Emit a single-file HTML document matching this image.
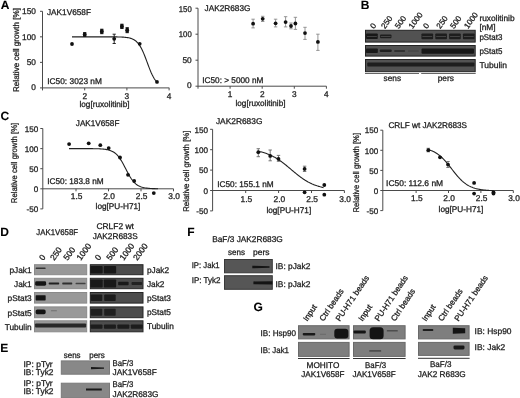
<!DOCTYPE html>
<html><head><meta charset="utf-8"><title>Figure</title>
<style>html,body{margin:0;padding:0;background:#fff;width:520px;height:398px;overflow:hidden}svg{display:block;will-change:transform}text{font-family:"Liberation Sans",sans-serif}</style>
</head><body>
<svg width="520" height="398" viewBox="0 0 520 398" font-family='"Liberation Sans", sans-serif' text-rendering="geometricPrecision">
<rect width="520" height="398" fill="#fff"/>
<text x="0.85" y="8.50" font-size="12" font-weight="bold" fill="#000" stroke="#000" stroke-width="0.1">A</text>
<text x="360.80" y="8.50" font-size="12" font-weight="bold" fill="#000" stroke="#000" stroke-width="0.1">B</text>
<text x="0.50" y="119.60" font-size="12" font-weight="bold" fill="#000" stroke="#000" stroke-width="0.1">C</text>
<text x="0.20" y="236.30" font-size="12" font-weight="bold" fill="#000" stroke="#000" stroke-width="0.1">D</text>
<text x="0.20" y="351.50" font-size="12" font-weight="bold" fill="#000" stroke="#000" stroke-width="0.1">E</text>
<text x="187.20" y="236.30" font-size="12" font-weight="bold" fill="#000" stroke="#000" stroke-width="0.1">F</text>
<text x="253.50" y="311.10" font-size="12" font-weight="bold" fill="#000" stroke="#000" stroke-width="0.1">G</text>
<line x1="42.50" y1="11.31" x2="42.50" y2="90.40" stroke="#4a4a4a" stroke-width="1"/>
<line x1="40.00" y1="87.90" x2="169.30" y2="87.90" stroke="#4a4a4a" stroke-width="1"/>
<line x1="40.00" y1="62.37" x2="42.50" y2="62.37" stroke="#4a4a4a" stroke-width="1"/>
<line x1="40.00" y1="36.84" x2="42.50" y2="36.84" stroke="#4a4a4a" stroke-width="1"/>
<line x1="40.00" y1="11.31" x2="42.50" y2="11.31" stroke="#4a4a4a" stroke-width="1"/>
<text x="35.90" y="89.90" font-size="8.3" text-anchor="end" fill="#1c1c1c" stroke="#1c1c1c" stroke-width="0.28">0</text>
<text x="35.90" y="65.27" font-size="8.3" text-anchor="end" fill="#1c1c1c" stroke="#1c1c1c" stroke-width="0.28">50</text>
<text x="35.90" y="39.74" font-size="8.3" text-anchor="end" fill="#1c1c1c" stroke="#1c1c1c" stroke-width="0.28">100</text>
<text x="35.90" y="14.21" font-size="8.3" text-anchor="end" fill="#1c1c1c" stroke="#1c1c1c" stroke-width="0.28">150</text>
<line x1="84.70" y1="87.90" x2="84.70" y2="90.40" stroke="#4a4a4a" stroke-width="1"/>
<text x="84.70" y="99.00" font-size="8.3" text-anchor="middle" fill="#1c1c1c" stroke="#1c1c1c" stroke-width="0.28">2</text>
<line x1="126.90" y1="87.90" x2="126.90" y2="90.40" stroke="#4a4a4a" stroke-width="1"/>
<text x="126.90" y="99.00" font-size="8.3" text-anchor="middle" fill="#1c1c1c" stroke="#1c1c1c" stroke-width="0.28">3</text>
<line x1="169.10" y1="87.90" x2="169.10" y2="90.40" stroke="#4a4a4a" stroke-width="1"/>
<text x="169.10" y="99.00" font-size="8.3" text-anchor="middle" fill="#1c1c1c" stroke="#1c1c1c" stroke-width="0.28">4</text>
<text x="104.50" y="106.60" font-size="8.3" text-anchor="middle" textLength="50.00" lengthAdjust="spacingAndGlyphs" fill="#1c1c1c" stroke="#1c1c1c" stroke-width="0.28">log[ruxolitinib]</text>
<text x="19.00" y="50.00" font-size="8.3" text-anchor="middle" textLength="84.00" lengthAdjust="spacingAndGlyphs" transform="rotate(-90 19.00 50.00)" fill="#1c1c1c" stroke="#1c1c1c" stroke-width="0.28">Relative cell growth [%]</text>
<text x="47.00" y="15.00" font-size="8.3" textLength="44.00" lengthAdjust="spacingAndGlyphs" fill="#1c1c1c" stroke="#1c1c1c" stroke-width="0.28">JAK1V658F</text>
<text x="47.30" y="83.70" font-size="8.3" textLength="54.60" lengthAdjust="spacingAndGlyphs" fill="#1c1c1c" stroke="#1c1c1c" stroke-width="0.28">IC50: 3023 nM</text>
<polyline points="72.00,36.84 73.07,36.84 74.14,36.84 75.21,36.84 76.28,36.84 77.34,36.84 78.41,36.84 79.48,36.84 80.55,36.84 81.62,36.84 82.69,36.84 83.76,36.84 84.83,36.84 85.89,36.84 86.96,36.84 88.03,36.84 89.10,36.84 90.17,36.84 91.24,36.84 92.31,36.84 93.38,36.84 94.44,36.84 95.51,36.84 96.58,36.84 97.65,36.84 98.72,36.84 99.79,36.84 100.86,36.84 101.92,36.84 102.99,36.84 104.06,36.85 105.13,36.85 106.20,36.85 107.27,36.85 108.34,36.85 109.41,36.86 110.47,36.86 111.54,36.87 112.61,36.87 113.68,36.88 114.75,36.89 115.82,36.90 116.89,36.92 117.96,36.94 119.03,36.97 120.09,37.00 121.16,37.04 122.23,37.09 123.30,37.16 124.37,37.24 125.44,37.34 126.51,37.46 127.58,37.62 128.64,37.81 129.71,38.05 130.78,38.35 131.85,38.73 132.92,39.19 133.99,39.75 135.06,40.44 136.12,41.28 137.19,42.29 138.26,43.50 139.33,44.94 140.40,46.61 141.47,48.53 142.54,50.71 143.61,53.12 144.68,55.74 145.74,58.51 146.81,61.39 147.88,64.29 148.95,67.14 150.02,69.87 151.09,72.42 152.16,74.76 153.22,76.86 154.29,78.70 155.36,80.29 156.43,81.65 157.50,82.79" fill="none" stroke="#222" stroke-width="1.1"/>
<circle cx="72.00" cy="44.00" r="1.9" fill="#111"/>
<line x1="84.70" y1="32.60" x2="84.70" y2="36.30" stroke="#111" stroke-width="0.9"/>
<line x1="83.10" y1="32.60" x2="86.30" y2="32.60" stroke="#111" stroke-width="0.9"/>
<line x1="83.10" y1="36.30" x2="86.30" y2="36.30" stroke="#111" stroke-width="0.9"/>
<rect x="83.20" y="32.60" width="3.00" height="3.70" fill="#111" />
<circle cx="84.70" cy="34.40" r="1.9" fill="#111"/>
<line x1="101.80" y1="29.20" x2="101.80" y2="33.70" stroke="#111" stroke-width="0.9"/>
<line x1="100.20" y1="29.20" x2="103.40" y2="29.20" stroke="#111" stroke-width="0.9"/>
<line x1="100.20" y1="33.70" x2="103.40" y2="33.70" stroke="#111" stroke-width="0.9"/>
<rect x="100.30" y="29.20" width="3.00" height="4.50" fill="#111" />
<circle cx="101.80" cy="31.40" r="1.9" fill="#111"/>
<line x1="114.20" y1="34.20" x2="114.20" y2="43.50" stroke="#111" stroke-width="0.9"/>
<line x1="112.60" y1="34.20" x2="115.80" y2="34.20" stroke="#111" stroke-width="0.9"/>
<line x1="112.60" y1="43.50" x2="115.80" y2="43.50" stroke="#111" stroke-width="0.9"/>
<circle cx="114.20" cy="38.80" r="1.9" fill="#111"/>
<line x1="121.90" y1="24.20" x2="121.90" y2="28.50" stroke="#111" stroke-width="0.9"/>
<line x1="120.30" y1="24.20" x2="123.50" y2="24.20" stroke="#111" stroke-width="0.9"/>
<line x1="120.30" y1="28.50" x2="123.50" y2="28.50" stroke="#111" stroke-width="0.9"/>
<rect x="120.40" y="24.20" width="3.00" height="4.30" fill="#111" />
<circle cx="121.90" cy="26.40" r="1.9" fill="#111"/>
<line x1="127.20" y1="27.70" x2="127.20" y2="32.70" stroke="#111" stroke-width="0.9"/>
<line x1="125.60" y1="27.70" x2="128.80" y2="27.70" stroke="#111" stroke-width="0.9"/>
<line x1="125.60" y1="32.70" x2="128.80" y2="32.70" stroke="#111" stroke-width="0.9"/>
<rect x="125.70" y="27.70" width="3.00" height="5.00" fill="#111" />
<circle cx="127.20" cy="30.20" r="1.9" fill="#111"/>
<circle cx="139.70" cy="43.80" r="1.9" fill="#111"/>
<circle cx="157.00" cy="81.90" r="1.9" fill="#111"/>
<line x1="198.00" y1="8.20" x2="198.00" y2="88.70" stroke="#4a4a4a" stroke-width="1"/>
<line x1="195.50" y1="86.20" x2="326.40" y2="86.20" stroke="#4a4a4a" stroke-width="1"/>
<line x1="195.50" y1="60.20" x2="198.00" y2="60.20" stroke="#4a4a4a" stroke-width="1"/>
<line x1="195.50" y1="34.20" x2="198.00" y2="34.20" stroke="#4a4a4a" stroke-width="1"/>
<line x1="195.50" y1="8.20" x2="198.00" y2="8.20" stroke="#4a4a4a" stroke-width="1"/>
<text x="191.70" y="88.00" font-size="8.3" text-anchor="end" fill="#1c1c1c" stroke="#1c1c1c" stroke-width="0.28">0</text>
<text x="191.70" y="62.70" font-size="8.3" text-anchor="end" fill="#1c1c1c" stroke="#1c1c1c" stroke-width="0.28">50</text>
<text x="191.70" y="37.40" font-size="8.3" text-anchor="end" textLength="12.90" lengthAdjust="spacingAndGlyphs" fill="#1c1c1c" stroke="#1c1c1c" stroke-width="0.28">100</text>
<text x="191.70" y="12.10" font-size="8.3" text-anchor="end" textLength="12.90" lengthAdjust="spacingAndGlyphs" fill="#1c1c1c" stroke="#1c1c1c" stroke-width="0.28">150</text>
<line x1="230.10" y1="86.20" x2="230.10" y2="88.70" stroke="#4a4a4a" stroke-width="1"/>
<text x="230.10" y="97.40" font-size="8.3" text-anchor="middle" fill="#1c1c1c" stroke="#1c1c1c" stroke-width="0.28">1</text>
<line x1="262.20" y1="86.20" x2="262.20" y2="88.70" stroke="#4a4a4a" stroke-width="1"/>
<text x="262.20" y="97.40" font-size="8.3" text-anchor="middle" fill="#1c1c1c" stroke="#1c1c1c" stroke-width="0.28">2</text>
<line x1="294.30" y1="86.20" x2="294.30" y2="88.70" stroke="#4a4a4a" stroke-width="1"/>
<text x="294.30" y="97.40" font-size="8.3" text-anchor="middle" fill="#1c1c1c" stroke="#1c1c1c" stroke-width="0.28">3</text>
<line x1="326.40" y1="86.20" x2="326.40" y2="88.70" stroke="#4a4a4a" stroke-width="1"/>
<text x="326.40" y="97.40" font-size="8.3" text-anchor="middle" fill="#1c1c1c" stroke="#1c1c1c" stroke-width="0.28">4</text>
<text x="260.50" y="105.80" font-size="8.3" text-anchor="middle" textLength="50.00" lengthAdjust="spacingAndGlyphs" fill="#1c1c1c" stroke="#1c1c1c" stroke-width="0.28">log[ruxolitinib]</text>
<text x="204.60" y="11.20" font-size="8.3" textLength="45.80" lengthAdjust="spacingAndGlyphs" fill="#1c1c1c" stroke="#1c1c1c" stroke-width="0.28">JAK2R683G</text>
<text x="202.30" y="83.10" font-size="8.3" textLength="61.00" lengthAdjust="spacingAndGlyphs" fill="#1c1c1c" stroke="#1c1c1c" stroke-width="0.28">IC50: &gt; 5000 nM</text>
<line x1="253.10" y1="19.20" x2="253.10" y2="27.90" stroke="#8a8a8a" stroke-width="0.9"/>
<line x1="251.40" y1="19.20" x2="254.80" y2="19.20" stroke="#8a8a8a" stroke-width="0.9"/>
<line x1="251.40" y1="27.90" x2="254.80" y2="27.90" stroke="#8a8a8a" stroke-width="0.9"/>
<circle cx="253.10" cy="23.70" r="1.9" fill="#111"/>
<line x1="262.70" y1="16.30" x2="262.70" y2="21.50" stroke="#8a8a8a" stroke-width="0.9"/>
<line x1="261.00" y1="16.30" x2="264.40" y2="16.30" stroke="#8a8a8a" stroke-width="0.9"/>
<line x1="261.00" y1="21.50" x2="264.40" y2="21.50" stroke="#8a8a8a" stroke-width="0.9"/>
<circle cx="262.70" cy="18.80" r="1.9" fill="#111"/>
<line x1="275.60" y1="19.20" x2="275.60" y2="26.90" stroke="#8a8a8a" stroke-width="0.9"/>
<line x1="273.90" y1="19.20" x2="277.30" y2="19.20" stroke="#8a8a8a" stroke-width="0.9"/>
<line x1="273.90" y1="26.90" x2="277.30" y2="26.90" stroke="#8a8a8a" stroke-width="0.9"/>
<circle cx="275.60" cy="23.30" r="1.9" fill="#111"/>
<line x1="285.60" y1="16.70" x2="285.60" y2="26.90" stroke="#8a8a8a" stroke-width="0.9"/>
<line x1="283.90" y1="16.70" x2="287.30" y2="16.70" stroke="#8a8a8a" stroke-width="0.9"/>
<line x1="283.90" y1="26.90" x2="287.30" y2="26.90" stroke="#8a8a8a" stroke-width="0.9"/>
<circle cx="285.60" cy="22.10" r="1.9" fill="#111"/>
<line x1="291.00" y1="23.00" x2="291.00" y2="28.80" stroke="#8a8a8a" stroke-width="0.9"/>
<line x1="289.30" y1="23.00" x2="292.70" y2="23.00" stroke="#8a8a8a" stroke-width="0.9"/>
<line x1="289.30" y1="28.80" x2="292.70" y2="28.80" stroke="#8a8a8a" stroke-width="0.9"/>
<circle cx="291.00" cy="26.00" r="1.9" fill="#111"/>
<line x1="295.40" y1="17.30" x2="295.40" y2="29.40" stroke="#8a8a8a" stroke-width="0.9"/>
<line x1="293.70" y1="17.30" x2="297.10" y2="17.30" stroke="#8a8a8a" stroke-width="0.9"/>
<line x1="293.70" y1="29.40" x2="297.10" y2="29.40" stroke="#8a8a8a" stroke-width="0.9"/>
<circle cx="295.40" cy="23.50" r="1.9" fill="#111"/>
<line x1="305.00" y1="27.30" x2="305.00" y2="39.40" stroke="#8a8a8a" stroke-width="0.9"/>
<line x1="303.30" y1="27.30" x2="306.70" y2="27.30" stroke="#8a8a8a" stroke-width="0.9"/>
<line x1="303.30" y1="39.40" x2="306.70" y2="39.40" stroke="#8a8a8a" stroke-width="0.9"/>
<circle cx="305.00" cy="33.10" r="1.9" fill="#111"/>
<line x1="317.90" y1="34.20" x2="317.90" y2="50.40" stroke="#8a8a8a" stroke-width="0.9"/>
<line x1="316.20" y1="34.20" x2="319.60" y2="34.20" stroke="#8a8a8a" stroke-width="0.9"/>
<line x1="316.20" y1="50.40" x2="319.60" y2="50.40" stroke="#8a8a8a" stroke-width="0.9"/>
<circle cx="317.90" cy="41.90" r="1.9" fill="#111"/>
<rect x="365.50" y="30.30" width="109.70" height="11.80" fill="#525252" stroke="#242424" stroke-width="1" />
<rect x="365.50" y="45.50" width="109.70" height="10.60" fill="#525252" stroke="#242424" stroke-width="1" />
<rect x="365.50" y="59.50" width="109.70" height="12.20" fill="#525252" stroke="#242424" stroke-width="1" />
<rect x="366.10" y="33.50" width="11.64" height="5.60" rx="0.80" fill="#141414" opacity="0.95"/>
<rect x="366.00" y="48.50" width="11.84" height="4.60" rx="0.80" fill="#141414" opacity="0.9"/>
<rect x="380.09" y="34.40" width="11.34" height="3.80" rx="0.80" fill="#141414" opacity="0.85"/>
<rect x="379.84" y="49.50" width="11.84" height="2.60" rx="0.80" fill="#141414" opacity="0.8"/>
<rect x="394.18" y="50.00" width="10.84" height="2.00" rx="0.67" fill="#141414" opacity="0.55"/>
<rect x="408.01" y="50.20" width="10.84" height="1.60" rx="0.53" fill="#141414" opacity="0.2"/>
<rect x="421.45" y="33.40" width="11.64" height="5.80" rx="0.80" fill="#141414" opacity="0.85"/>
<rect x="435.29" y="33.40" width="11.64" height="5.80" rx="0.80" fill="#141414" opacity="0.85"/>
<rect x="449.12" y="33.40" width="11.64" height="5.80" rx="0.80" fill="#141414" opacity="0.85"/>
<rect x="462.96" y="33.40" width="11.64" height="5.80" rx="0.80" fill="#141414" opacity="0.85"/>
<rect x="421.50" y="48.50" width="52.50" height="5.20" rx="1.00" fill="#141414" opacity="0.92"/>
<rect x="367.25" y="62.50" width="107.20" height="4.00" rx="1.00" fill="#141414" opacity="0.85"/>
<line x1="367.00" y1="36.4" x2="376.84" y2="36.4" stroke="#6a6a6a" stroke-width="0.8" opacity="0.7"/>
<line x1="380.84" y1="36.4" x2="390.68" y2="36.4" stroke="#6a6a6a" stroke-width="0.8" opacity="0.7"/>
<line x1="422.35" y1="36.4" x2="432.19" y2="36.4" stroke="#6a6a6a" stroke-width="0.8" opacity="0.7"/>
<line x1="436.19" y1="36.4" x2="446.02" y2="36.4" stroke="#6a6a6a" stroke-width="0.8" opacity="0.7"/>
<line x1="450.03" y1="36.4" x2="459.86" y2="36.4" stroke="#6a6a6a" stroke-width="0.8" opacity="0.7"/>
<line x1="463.86" y1="36.4" x2="473.70" y2="36.4" stroke="#6a6a6a" stroke-width="0.8" opacity="0.7"/>
<line x1="365.00" y1="73.50" x2="419.00" y2="73.50" stroke="#666" stroke-width="1"/>
<line x1="421.20" y1="73.50" x2="475.70" y2="73.50" stroke="#666" stroke-width="1"/>
<text x="392.30" y="81.20" font-size="8.3" text-anchor="middle" textLength="17.50" lengthAdjust="spacingAndGlyphs" fill="#1c1c1c" stroke="#1c1c1c" stroke-width="0.28">sens</text>
<text x="445.80" y="81.20" font-size="8.3" text-anchor="middle" textLength="16.30" lengthAdjust="spacingAndGlyphs" fill="#1c1c1c" stroke="#1c1c1c" stroke-width="0.28">pers</text>
<text x="479.40" y="20.50" font-size="8.3" textLength="35.20" lengthAdjust="spacingAndGlyphs" fill="#1c1c1c" stroke="#1c1c1c" stroke-width="0.28">ruxolitinib</text>
<text x="479.40" y="30.20" font-size="8.3" textLength="16.20" lengthAdjust="spacingAndGlyphs" fill="#1c1c1c" stroke="#1c1c1c" stroke-width="0.28">[nM]</text>
<text x="479.40" y="39.80" font-size="8.3" textLength="23.00" lengthAdjust="spacingAndGlyphs" fill="#1c1c1c" stroke="#1c1c1c" stroke-width="0.28">pStat3</text>
<text x="479.40" y="53.60" font-size="8.3" textLength="23.00" lengthAdjust="spacingAndGlyphs" fill="#1c1c1c" stroke="#1c1c1c" stroke-width="0.28">pStat5</text>
<text x="479.40" y="68.00" font-size="8.3" textLength="27.50" lengthAdjust="spacingAndGlyphs" fill="#1c1c1c" stroke="#1c1c1c" stroke-width="0.28">Tubulin</text>
<text x="374.12" y="29.20" font-size="8.0" transform="rotate(-54 374.12 29.20)" fill="#1c1c1c" stroke="#1c1c1c" stroke-width="0.28">0</text>
<text x="384.96" y="29.20" font-size="8.0" transform="rotate(-54 384.96 29.20)" fill="#1c1c1c" stroke="#1c1c1c" stroke-width="0.28">250</text>
<text x="398.79" y="29.20" font-size="8.0" transform="rotate(-54 398.79 29.20)" fill="#1c1c1c" stroke="#1c1c1c" stroke-width="0.28">500</text>
<text x="412.63" y="29.20" font-size="8.0" transform="rotate(-54 412.63 29.20)" fill="#1c1c1c" stroke="#1c1c1c" stroke-width="0.28">1000</text>
<text x="426.97" y="29.20" font-size="8.0" transform="rotate(-54 426.97 29.20)" fill="#1c1c1c" stroke="#1c1c1c" stroke-width="0.28">0</text>
<text x="440.31" y="29.20" font-size="8.0" transform="rotate(-54 440.31 29.20)" fill="#1c1c1c" stroke="#1c1c1c" stroke-width="0.28">250</text>
<text x="454.14" y="29.20" font-size="8.0" transform="rotate(-54 454.14 29.20)" fill="#1c1c1c" stroke="#1c1c1c" stroke-width="0.28">500</text>
<text x="467.98" y="29.20" font-size="8.0" transform="rotate(-54 467.98 29.20)" fill="#1c1c1c" stroke="#1c1c1c" stroke-width="0.28">1000</text>
<line x1="42.80" y1="128.50" x2="42.80" y2="208.90" stroke="#4a4a4a" stroke-width="1"/>
<line x1="40.30" y1="188.80" x2="173.50" y2="188.80" stroke="#4a4a4a" stroke-width="1"/>
<line x1="40.30" y1="128.50" x2="42.80" y2="128.50" stroke="#4a4a4a" stroke-width="1"/>
<line x1="40.30" y1="148.60" x2="42.80" y2="148.60" stroke="#4a4a4a" stroke-width="1"/>
<line x1="40.30" y1="168.70" x2="42.80" y2="168.70" stroke="#4a4a4a" stroke-width="1"/>
<line x1="40.30" y1="208.90" x2="42.80" y2="208.90" stroke="#4a4a4a" stroke-width="1"/>
<text x="38.20" y="131.70" font-size="8.1" text-anchor="end" fill="#1c1c1c" stroke="#1c1c1c" stroke-width="0.28">150</text>
<text x="38.20" y="151.80" font-size="8.1" text-anchor="end" fill="#1c1c1c" stroke="#1c1c1c" stroke-width="0.28">100</text>
<text x="38.20" y="171.90" font-size="8.1" text-anchor="end" fill="#1c1c1c" stroke="#1c1c1c" stroke-width="0.28">50</text>
<text x="38.20" y="192.00" font-size="8.1" text-anchor="end" fill="#1c1c1c" stroke="#1c1c1c" stroke-width="0.28">0</text>
<text x="38.20" y="212.10" font-size="8.1" text-anchor="end" fill="#1c1c1c" stroke="#1c1c1c" stroke-width="0.28">-50</text>
<line x1="76.00" y1="188.80" x2="76.00" y2="191.30" stroke="#4a4a4a" stroke-width="1"/>
<text x="76.70" y="198.60" font-size="8.4" text-anchor="middle" fill="#1c1c1c" stroke="#1c1c1c" stroke-width="0.28">1.5</text>
<line x1="108.50" y1="188.80" x2="108.50" y2="191.30" stroke="#4a4a4a" stroke-width="1"/>
<text x="109.20" y="198.60" font-size="8.4" text-anchor="middle" fill="#1c1c1c" stroke="#1c1c1c" stroke-width="0.28">2.0</text>
<line x1="141.00" y1="188.80" x2="141.00" y2="191.30" stroke="#4a4a4a" stroke-width="1"/>
<text x="141.70" y="198.60" font-size="8.4" text-anchor="middle" fill="#1c1c1c" stroke="#1c1c1c" stroke-width="0.28">2.5</text>
<line x1="173.50" y1="188.80" x2="173.50" y2="191.30" stroke="#4a4a4a" stroke-width="1"/>
<text x="174.20" y="198.60" font-size="8.4" text-anchor="middle" fill="#1c1c1c" stroke="#1c1c1c" stroke-width="0.28">3.0</text>
<text x="118.00" y="208.50" font-size="8.3" text-anchor="middle" textLength="44.80" lengthAdjust="spacingAndGlyphs" fill="#1c1c1c" stroke="#1c1c1c" stroke-width="0.28">log[PU-H71]</text>
<text x="16.90" y="163.00" font-size="8.3" text-anchor="middle" textLength="80.30" lengthAdjust="spacingAndGlyphs" transform="rotate(-90 16.90 163.00)" fill="#1c1c1c" stroke="#1c1c1c" stroke-width="0.28">Relative cell growth [%]</text>
<text x="75.80" y="126.00" font-size="8.3" textLength="43.60" lengthAdjust="spacingAndGlyphs" fill="#1c1c1c" stroke="#1c1c1c" stroke-width="0.28">JAK1V658F</text>
<text x="47.30" y="184.30" font-size="8.3" textLength="56.30" lengthAdjust="spacingAndGlyphs" fill="#1c1c1c" stroke="#1c1c1c" stroke-width="0.28">IC50: 183.8 nM</text>
<polyline points="69.00,148.60 70.11,148.60 71.22,148.60 72.34,148.60 73.45,148.60 74.56,148.60 75.67,148.60 76.79,148.60 77.90,148.60 79.01,148.60 80.12,148.61 81.24,148.61 82.35,148.61 83.46,148.61 84.58,148.61 85.69,148.62 86.80,148.62 87.91,148.63 89.03,148.63 90.14,148.64 91.25,148.65 92.36,148.66 93.47,148.68 94.59,148.69 95.70,148.72 96.81,148.74 97.92,148.78 99.04,148.82 100.15,148.88 101.26,148.94 102.38,149.02 103.49,149.13 104.60,149.25 105.71,149.40 106.83,149.59 107.94,149.83 109.05,150.11 110.16,150.46 111.28,150.89 112.39,151.40 113.50,152.03 114.61,152.77 115.72,153.65 116.84,154.69 117.95,155.89 119.06,157.28 120.17,158.84 121.29,160.58 122.40,162.48 123.51,164.51 124.62,166.64 125.74,168.81 126.85,170.98 127.96,173.09 129.07,175.11 130.19,177.00 131.30,178.72 132.41,180.27 133.53,181.63 134.64,182.82 135.75,183.84 136.86,184.71 137.97,185.44 139.09,186.05 140.20,186.56 141.31,186.97 142.43,187.32 143.54,187.60 144.65,187.83 145.76,188.01 146.88,188.16 147.99,188.29 149.10,188.38 150.21,188.47 151.32,188.53 152.44,188.58 153.55,188.62 154.66,188.66 155.78,188.69 156.89,188.71 158.00,188.73" fill="none" stroke="#222" stroke-width="1.1"/>
<circle cx="69.10" cy="144.10" r="1.9" fill="#111"/>
<circle cx="88.70" cy="143.30" r="1.9" fill="#111"/>
<circle cx="100.30" cy="145.20" r="1.9" fill="#111"/>
<circle cx="108.70" cy="148.10" r="1.9" fill="#111"/>
<circle cx="120.00" cy="157.50" r="1.9" fill="#111"/>
<circle cx="128.00" cy="174.80" r="1.9" fill="#111"/>
<circle cx="134.20" cy="181.00" r="1.9" fill="#111"/>
<circle cx="153.80" cy="193.10" r="1.9" fill="#111"/>
<line x1="212.60" y1="129.30" x2="212.60" y2="210.90" stroke="#4a4a4a" stroke-width="1"/>
<line x1="210.10" y1="190.50" x2="344.40" y2="190.50" stroke="#4a4a4a" stroke-width="1"/>
<line x1="210.10" y1="129.30" x2="212.60" y2="129.30" stroke="#4a4a4a" stroke-width="1"/>
<line x1="210.10" y1="149.70" x2="212.60" y2="149.70" stroke="#4a4a4a" stroke-width="1"/>
<line x1="210.10" y1="170.10" x2="212.60" y2="170.10" stroke="#4a4a4a" stroke-width="1"/>
<line x1="210.10" y1="210.90" x2="212.60" y2="210.90" stroke="#4a4a4a" stroke-width="1"/>
<text x="208.00" y="132.50" font-size="8.1" text-anchor="end" fill="#1c1c1c" stroke="#1c1c1c" stroke-width="0.28">150</text>
<text x="208.00" y="152.90" font-size="8.1" text-anchor="end" fill="#1c1c1c" stroke="#1c1c1c" stroke-width="0.28">100</text>
<text x="208.00" y="173.30" font-size="8.1" text-anchor="end" fill="#1c1c1c" stroke="#1c1c1c" stroke-width="0.28">50</text>
<text x="208.00" y="193.70" font-size="8.1" text-anchor="end" fill="#1c1c1c" stroke="#1c1c1c" stroke-width="0.28">0</text>
<text x="208.00" y="214.10" font-size="8.1" text-anchor="end" fill="#1c1c1c" stroke="#1c1c1c" stroke-width="0.28">-50</text>
<line x1="245.70" y1="190.50" x2="245.70" y2="193.00" stroke="#4a4a4a" stroke-width="1"/>
<text x="246.40" y="202.00" font-size="8.4" text-anchor="middle" fill="#1c1c1c" stroke="#1c1c1c" stroke-width="0.28">1.5</text>
<line x1="278.60" y1="190.50" x2="278.60" y2="193.00" stroke="#4a4a4a" stroke-width="1"/>
<text x="279.30" y="202.00" font-size="8.4" text-anchor="middle" fill="#1c1c1c" stroke="#1c1c1c" stroke-width="0.28">2.0</text>
<line x1="311.50" y1="190.50" x2="311.50" y2="193.00" stroke="#4a4a4a" stroke-width="1"/>
<text x="312.20" y="202.00" font-size="8.4" text-anchor="middle" fill="#1c1c1c" stroke="#1c1c1c" stroke-width="0.28">2.5</text>
<line x1="344.40" y1="190.50" x2="344.40" y2="193.00" stroke="#4a4a4a" stroke-width="1"/>
<text x="345.10" y="202.00" font-size="8.4" text-anchor="middle" fill="#1c1c1c" stroke="#1c1c1c" stroke-width="0.28">3.0</text>
<text x="288.80" y="212.50" font-size="8.3" text-anchor="middle" textLength="44.80" lengthAdjust="spacingAndGlyphs" fill="#1c1c1c" stroke="#1c1c1c" stroke-width="0.28">log[PU-H71]</text>
<text x="188.70" y="171.20" font-size="8.3" text-anchor="middle" textLength="81.30" lengthAdjust="spacingAndGlyphs" transform="rotate(-90 188.70 171.20)" fill="#1c1c1c" stroke="#1c1c1c" stroke-width="0.28">Relative cell growth [%]</text>
<text x="215.90" y="124.40" font-size="8.3" textLength="46.50" lengthAdjust="spacingAndGlyphs" fill="#1c1c1c" stroke="#1c1c1c" stroke-width="0.28">JAK2R683G</text>
<text x="217.30" y="187.00" font-size="8.3" textLength="56.30" lengthAdjust="spacingAndGlyphs" fill="#1c1c1c" stroke="#1c1c1c" stroke-width="0.28">IC50: 155.1 nM</text>
<polyline points="258.50,151.31 259.31,151.49 260.12,151.67 260.94,151.87 261.75,152.08 262.56,152.30 263.38,152.54 264.19,152.78 265.00,153.04 265.81,153.32 266.62,153.60 267.44,153.91 268.25,154.22 269.06,154.56 269.88,154.90 270.69,155.27 271.50,155.65 272.31,156.05 273.12,156.46 273.94,156.89 274.75,157.34 275.56,157.81 276.38,158.29 277.19,158.79 278.00,159.31 278.81,159.84 279.62,160.39 280.44,160.96 281.25,161.54 282.06,162.13 282.88,162.74 283.69,163.37 284.50,164.00 285.31,164.65 286.12,165.30 286.94,165.97 287.75,166.64 288.56,167.31 289.38,168.00 290.19,168.68 291.00,169.37 291.81,170.05 292.62,170.74 293.44,171.42 294.25,172.10 295.06,172.78 295.88,173.44 296.69,174.10 297.50,174.75 298.31,175.39 299.12,176.02 299.94,176.63 300.75,177.23 301.56,177.82 302.38,178.39 303.19,178.94 304.00,179.48 304.81,180.01 305.62,180.51 306.44,181.00 307.25,181.47 308.06,181.93 308.88,182.37 309.69,182.79 310.50,183.19 311.31,183.58 312.12,183.95 312.94,184.30 313.75,184.64 314.56,184.96 315.38,185.27 316.19,185.56 317.00,185.84 317.81,186.10 318.62,186.35 319.44,186.59 320.25,186.82 321.06,187.03 321.88,187.23 322.69,187.42 323.50,187.61" fill="none" stroke="#222" stroke-width="1.1"/>
<line x1="258.30" y1="148.70" x2="258.30" y2="156.70" stroke="#6a6a6a" stroke-width="0.9"/>
<line x1="256.60" y1="148.70" x2="260.00" y2="148.70" stroke="#6a6a6a" stroke-width="0.9"/>
<line x1="256.60" y1="156.70" x2="260.00" y2="156.70" stroke="#6a6a6a" stroke-width="0.9"/>
<circle cx="258.30" cy="152.20" r="1.9" fill="#111"/>
<line x1="270.20" y1="150.00" x2="270.20" y2="160.80" stroke="#6a6a6a" stroke-width="0.9"/>
<line x1="268.50" y1="150.00" x2="271.90" y2="150.00" stroke="#6a6a6a" stroke-width="0.9"/>
<line x1="268.50" y1="160.80" x2="271.90" y2="160.80" stroke="#6a6a6a" stroke-width="0.9"/>
<circle cx="270.20" cy="155.90" r="1.9" fill="#111"/>
<line x1="278.50" y1="155.40" x2="278.50" y2="161.30" stroke="#6a6a6a" stroke-width="0.9"/>
<line x1="276.80" y1="155.40" x2="280.20" y2="155.40" stroke="#6a6a6a" stroke-width="0.9"/>
<line x1="276.80" y1="161.30" x2="280.20" y2="161.30" stroke="#6a6a6a" stroke-width="0.9"/>
<circle cx="278.50" cy="158.90" r="1.9" fill="#111"/>
<line x1="304.60" y1="166.20" x2="304.60" y2="171.50" stroke="#6a6a6a" stroke-width="0.9"/>
<line x1="302.90" y1="166.20" x2="306.30" y2="166.20" stroke="#6a6a6a" stroke-width="0.9"/>
<line x1="302.90" y1="171.50" x2="306.30" y2="171.50" stroke="#6a6a6a" stroke-width="0.9"/>
<circle cx="304.60" cy="168.90" r="1.9" fill="#111"/>
<circle cx="304.60" cy="192.30" r="1.9" fill="#111"/>
<circle cx="324.30" cy="185.00" r="1.9" fill="#111"/>
<circle cx="324.30" cy="194.70" r="1.9" fill="#111"/>
<line x1="382.80" y1="130.20" x2="382.80" y2="210.60" stroke="#4a4a4a" stroke-width="1"/>
<line x1="380.30" y1="190.50" x2="513.30" y2="190.50" stroke="#4a4a4a" stroke-width="1"/>
<line x1="380.30" y1="130.20" x2="382.80" y2="130.20" stroke="#4a4a4a" stroke-width="1"/>
<line x1="380.30" y1="150.30" x2="382.80" y2="150.30" stroke="#4a4a4a" stroke-width="1"/>
<line x1="380.30" y1="170.40" x2="382.80" y2="170.40" stroke="#4a4a4a" stroke-width="1"/>
<line x1="380.30" y1="210.60" x2="382.80" y2="210.60" stroke="#4a4a4a" stroke-width="1"/>
<text x="378.20" y="133.40" font-size="8.1" text-anchor="end" fill="#1c1c1c" stroke="#1c1c1c" stroke-width="0.28">150</text>
<text x="378.20" y="153.50" font-size="8.1" text-anchor="end" fill="#1c1c1c" stroke="#1c1c1c" stroke-width="0.28">100</text>
<text x="378.20" y="173.60" font-size="8.1" text-anchor="end" fill="#1c1c1c" stroke="#1c1c1c" stroke-width="0.28">50</text>
<text x="378.20" y="193.70" font-size="8.1" text-anchor="end" fill="#1c1c1c" stroke="#1c1c1c" stroke-width="0.28">0</text>
<text x="378.20" y="213.80" font-size="8.1" text-anchor="end" fill="#1c1c1c" stroke="#1c1c1c" stroke-width="0.28">-50</text>
<line x1="416.10" y1="190.50" x2="416.10" y2="193.00" stroke="#4a4a4a" stroke-width="1"/>
<text x="416.80" y="201.40" font-size="8.4" text-anchor="middle" fill="#1c1c1c" stroke="#1c1c1c" stroke-width="0.28">1.5</text>
<line x1="448.50" y1="190.50" x2="448.50" y2="193.00" stroke="#4a4a4a" stroke-width="1"/>
<text x="449.20" y="201.40" font-size="8.4" text-anchor="middle" fill="#1c1c1c" stroke="#1c1c1c" stroke-width="0.28">2.0</text>
<line x1="480.90" y1="190.50" x2="480.90" y2="193.00" stroke="#4a4a4a" stroke-width="1"/>
<text x="481.60" y="201.40" font-size="8.4" text-anchor="middle" fill="#1c1c1c" stroke="#1c1c1c" stroke-width="0.28">2.5</text>
<line x1="513.30" y1="190.50" x2="513.30" y2="193.00" stroke="#4a4a4a" stroke-width="1"/>
<text x="514.00" y="201.40" font-size="8.4" text-anchor="middle" fill="#1c1c1c" stroke="#1c1c1c" stroke-width="0.28">3.0</text>
<text x="461.00" y="212.30" font-size="8.3" text-anchor="middle" textLength="44.80" lengthAdjust="spacingAndGlyphs" fill="#1c1c1c" stroke="#1c1c1c" stroke-width="0.28">log[PU-H71]</text>
<text x="358.80" y="172.70" font-size="8.3" text-anchor="middle" textLength="79.50" lengthAdjust="spacingAndGlyphs" transform="rotate(-90 358.80 172.70)" fill="#1c1c1c" stroke="#1c1c1c" stroke-width="0.28">Relative cell growth [%]</text>
<text x="388.40" y="128.00" font-size="8.3" textLength="78.70" lengthAdjust="spacingAndGlyphs" fill="#1c1c1c" stroke="#1c1c1c" stroke-width="0.28">CRLF wt JAK2R683S</text>
<text x="386.10" y="186.20" font-size="8.3" textLength="57.00" lengthAdjust="spacingAndGlyphs" fill="#1c1c1c" stroke="#1c1c1c" stroke-width="0.28">IC50: 112.6 nM</text>
<polyline points="428.30,149.61 429.12,149.86 429.93,150.13 430.75,150.42 431.56,150.74 432.38,151.08 433.19,151.45 434.00,151.85 434.82,152.28 435.63,152.75 436.45,153.25 437.26,153.78 438.08,154.35 438.89,154.95 439.71,155.60 440.53,156.28 441.34,157.00 442.16,157.76 442.97,158.56 443.79,159.39 444.60,160.26 445.42,161.17 446.23,162.10 447.05,163.06 447.86,164.05 448.68,165.06 449.49,166.09 450.31,167.13 451.12,168.17 451.94,169.22 452.75,170.27 453.56,171.32 454.38,172.35 455.19,173.37 456.01,174.37 456.82,175.35 457.64,176.30 458.45,177.22 459.27,178.10 460.09,178.96 460.90,179.77 461.72,180.55 462.53,181.30 463.35,182.00 464.16,182.66 464.98,183.29 465.79,183.88 466.61,184.43 467.42,184.94 468.24,185.42 469.05,185.87 469.87,186.29 470.68,186.67 471.50,187.03 472.31,187.36 473.12,187.67 473.94,187.95 474.75,188.21 475.57,188.45 476.38,188.66 477.20,188.87 478.01,189.05 478.83,189.22 479.64,189.37 480.46,189.52 481.27,189.65 482.09,189.76 482.91,189.87 483.72,189.97 484.54,190.06 485.35,190.14 486.17,190.22 486.98,190.29 487.80,190.35 488.61,190.41 489.43,190.46 490.24,190.51 491.06,190.55 491.87,190.59 492.69,190.62 493.50,190.66" fill="none" stroke="#222" stroke-width="1.1"/>
<line x1="428.30" y1="148.30" x2="428.30" y2="151.80" stroke="#6a6a6a" stroke-width="0.9"/>
<line x1="426.60" y1="148.30" x2="430.00" y2="148.30" stroke="#6a6a6a" stroke-width="0.9"/>
<line x1="426.60" y1="151.80" x2="430.00" y2="151.80" stroke="#6a6a6a" stroke-width="0.9"/>
<circle cx="428.30" cy="150.20" r="1.9" fill="#111"/>
<circle cx="440.00" cy="157.30" r="1.9" fill="#111"/>
<line x1="448.00" y1="161.50" x2="448.00" y2="167.50" stroke="#6a6a6a" stroke-width="0.9"/>
<line x1="446.30" y1="161.50" x2="449.70" y2="161.50" stroke="#6a6a6a" stroke-width="0.9"/>
<line x1="446.30" y1="167.50" x2="449.70" y2="167.50" stroke="#6a6a6a" stroke-width="0.9"/>
<circle cx="448.00" cy="164.60" r="1.9" fill="#111"/>
<circle cx="474.10" cy="182.90" r="1.9" fill="#111"/>
<circle cx="474.10" cy="193.60" r="1.9" fill="#111"/>
<circle cx="493.50" cy="192.30" r="1.9" fill="#111"/>
<circle cx="493.50" cy="193.60" r="1.9" fill="#111"/>
<text x="57.20" y="235.30" font-size="8.3" text-anchor="middle" textLength="41.80" lengthAdjust="spacingAndGlyphs" fill="#1c1c1c" stroke="#1c1c1c" stroke-width="0.28">JAK1V658F</text>
<text x="115.20" y="229.40" font-size="8.3" text-anchor="middle" textLength="37.50" lengthAdjust="spacingAndGlyphs" fill="#1c1c1c" stroke="#1c1c1c" stroke-width="0.28">CRLF2 wt</text>
<text x="115.20" y="239.00" font-size="8.3" text-anchor="middle" textLength="45.00" lengthAdjust="spacingAndGlyphs" fill="#1c1c1c" stroke="#1c1c1c" stroke-width="0.28">JAK2R683S</text>
<rect x="34.50" y="264.70" width="52.20" height="10.00" fill="#999999" stroke="#8a8a8a" stroke-width="1" />
<rect x="90.30" y="264.70" width="52.70" height="10.00" fill="#4c4c4c" stroke="#262626" stroke-width="1" />
<text x="31.60" y="273.20" font-size="8.3" text-anchor="end" fill="#1c1c1c" stroke="#1c1c1c" stroke-width="0.28">pJak1</text>
<text x="146.90" y="272.70" font-size="8.3" fill="#1c1c1c" stroke="#1c1c1c" stroke-width="0.28">pJak2</text>
<rect x="34.50" y="278.30" width="52.20" height="10.40" fill="#999999" stroke="#8a8a8a" stroke-width="1" />
<rect x="90.30" y="278.30" width="52.70" height="10.40" fill="#4c4c4c" stroke="#262626" stroke-width="1" />
<text x="31.60" y="287.00" font-size="8.3" text-anchor="end" fill="#1c1c1c" stroke="#1c1c1c" stroke-width="0.28">Jak1</text>
<text x="146.90" y="286.50" font-size="8.3" fill="#1c1c1c" stroke="#1c1c1c" stroke-width="0.28">Jak2</text>
<rect x="34.50" y="292.50" width="52.20" height="10.60" fill="#999999" stroke="#8a8a8a" stroke-width="1" />
<rect x="90.30" y="292.50" width="52.70" height="10.60" fill="#4c4c4c" stroke="#262626" stroke-width="1" />
<text x="31.60" y="301.30" font-size="8.3" text-anchor="end" fill="#1c1c1c" stroke="#1c1c1c" stroke-width="0.28">pStat3</text>
<text x="146.90" y="300.80" font-size="8.3" fill="#1c1c1c" stroke="#1c1c1c" stroke-width="0.28">pStat3</text>
<rect x="34.50" y="306.90" width="52.20" height="10.80" fill="#999999" stroke="#8a8a8a" stroke-width="1" />
<rect x="90.30" y="306.90" width="52.70" height="10.80" fill="#4c4c4c" stroke="#262626" stroke-width="1" />
<text x="31.60" y="315.80" font-size="8.3" text-anchor="end" fill="#1c1c1c" stroke="#1c1c1c" stroke-width="0.28">pStat5</text>
<text x="146.90" y="315.30" font-size="8.3" fill="#1c1c1c" stroke="#1c1c1c" stroke-width="0.28">pStat5</text>
<rect x="34.50" y="320.80" width="52.20" height="11.00" fill="#999999" stroke="#8a8a8a" stroke-width="1" />
<rect x="90.30" y="320.80" width="52.70" height="11.00" fill="#4c4c4c" stroke="#262626" stroke-width="1" />
<text x="31.60" y="329.80" font-size="8.3" text-anchor="end" fill="#1c1c1c" stroke="#1c1c1c" stroke-width="0.28">Tubulin</text>
<text x="146.90" y="329.30" font-size="8.3" fill="#1c1c1c" stroke="#1c1c1c" stroke-width="0.28">Tubulin</text>
<text x="43.15" y="261.00" font-size="8.4" transform="rotate(-54 43.15 261.00)" fill="#1c1c1c" stroke="#1c1c1c" stroke-width="0.28">0</text>
<text x="54.15" y="261.00" font-size="8.4" transform="rotate(-54 54.15 261.00)" fill="#1c1c1c" stroke="#1c1c1c" stroke-width="0.28">250</text>
<text x="67.45" y="261.00" font-size="8.4" transform="rotate(-54 67.45 261.00)" fill="#1c1c1c" stroke="#1c1c1c" stroke-width="0.28">500</text>
<text x="80.75" y="261.00" font-size="8.4" transform="rotate(-54 80.75 261.00)" fill="#1c1c1c" stroke="#1c1c1c" stroke-width="0.28">1000</text>
<text x="99.01" y="261.00" font-size="8.4" transform="rotate(-54 99.01 261.00)" fill="#1c1c1c" stroke="#1c1c1c" stroke-width="0.28">0</text>
<text x="110.44" y="261.00" font-size="8.4" transform="rotate(-54 110.44 261.00)" fill="#1c1c1c" stroke="#1c1c1c" stroke-width="0.28">500</text>
<text x="123.86" y="261.00" font-size="8.4" transform="rotate(-54 123.86 261.00)" fill="#1c1c1c" stroke="#1c1c1c" stroke-width="0.28">1000</text>
<text x="137.29" y="261.00" font-size="8.4" transform="rotate(-54 137.29 261.00)" fill="#1c1c1c" stroke="#1c1c1c" stroke-width="0.28">2000</text>
<rect x="35.65" y="267.50" width="10.00" height="1.40" rx="0.47" fill="#141414" opacity="0.75"/>
<rect x="35.15" y="281.30" width="11.00" height="4.40" rx="1.47" fill="#141414" opacity="1"/>
<rect x="48.70" y="282.50" width="10.50" height="2.00" rx="0.67" fill="#141414" opacity="0.9"/>
<rect x="62.25" y="282.60" width="10.00" height="1.80" rx="0.60" fill="#141414" opacity="0.8"/>
<rect x="75.55" y="282.70" width="10.00" height="1.60" rx="0.53" fill="#141414" opacity="0.65"/>
<rect x="35.65" y="295.20" width="10.00" height="5.20" rx="0.60" fill="#141414" opacity="1"/>
<rect x="35.65" y="309.40" width="10.00" height="4.80" rx="1.60" fill="#141414" opacity="1"/>
<rect x="50.95" y="310.30" width="6.00" height="1.00" rx="0.33" fill="#141414" opacity="0.3"/>
<rect x="35.10" y="323.50" width="51.00" height="4.00" rx="0.80" fill="#141414" opacity="0.85"/>
<rect x="90.31" y="265.95" width="12.40" height="7.50" rx="0.80" fill="#141414" opacity="0.9"/>
<rect x="103.74" y="265.95" width="12.40" height="7.50" rx="0.80" fill="#141414" opacity="0.9"/>
<rect x="90.31" y="279.50" width="12.40" height="8.00" rx="0.80" fill="#141414" opacity="0.9"/>
<rect x="103.74" y="279.50" width="12.40" height="8.00" rx="0.80" fill="#141414" opacity="0.9"/>
<rect x="118.11" y="281.80" width="10.50" height="3.40" rx="0.80" fill="#141414" opacity="0.9"/>
<rect x="131.54" y="281.90" width="10.50" height="3.20" rx="0.80" fill="#141414" opacity="0.75"/>
<rect x="90.76" y="294.55" width="11.50" height="6.50" rx="0.80" fill="#141414" opacity="0.85"/>
<rect x="104.19" y="294.55" width="11.50" height="6.50" rx="0.80" fill="#141414" opacity="0.85"/>
<rect x="90.76" y="308.80" width="11.50" height="7.00" rx="0.80" fill="#141414" opacity="0.8"/>
<rect x="104.19" y="308.80" width="11.50" height="7.00" rx="0.80" fill="#141414" opacity="0.8"/>
<rect x="90.51" y="324.50" width="12.00" height="4.20" rx="0.80" fill="#141414" opacity="0.85"/>
<rect x="103.94" y="324.50" width="12.00" height="4.20" rx="0.80" fill="#141414" opacity="0.85"/>
<rect x="117.36" y="324.50" width="12.00" height="4.20" rx="0.80" fill="#141414" opacity="0.85"/>
<rect x="130.79" y="324.50" width="12.00" height="4.20" rx="0.80" fill="#141414" opacity="0.85"/>
<text x="72.20" y="357.80" font-size="8.3" text-anchor="middle" textLength="16.80" lengthAdjust="spacingAndGlyphs" fill="#1c1c1c" stroke="#1c1c1c" stroke-width="0.28">sens</text>
<text x="97.00" y="357.80" font-size="8.3" text-anchor="middle" textLength="15.60" lengthAdjust="spacingAndGlyphs" fill="#1c1c1c" stroke="#1c1c1c" stroke-width="0.28">pers</text>
<rect x="61.30" y="360.90" width="48.20" height="13.30" fill="#888888" stroke="#7a7a7a" stroke-width="1" />
<rect x="61.30" y="383.20" width="48.20" height="15.00" fill="#888888" stroke="#7a7a7a" stroke-width="1" />
<path d="M91.00,366.90 L104.00,367.45 L104.00,368.75 L91.00,369.30 Z" fill="#141414" opacity="0.95"/>
<path d="M86.00,388.50 L101.80,388.60 L101.80,390.40 L86.00,390.50 Z" fill="#141414" opacity="0.95"/>
<text x="23.50" y="366.70" font-size="8.3" textLength="29.20" lengthAdjust="spacingAndGlyphs" fill="#1c1c1c" stroke="#1c1c1c" stroke-width="0.28">IP: pTyr</text>
<text x="23.50" y="374.90" font-size="8.3" textLength="30.00" lengthAdjust="spacingAndGlyphs" fill="#1c1c1c" stroke="#1c1c1c" stroke-width="0.28">IB: Tyk2</text>
<text x="23.50" y="386.00" font-size="8.3" textLength="29.20" lengthAdjust="spacingAndGlyphs" fill="#1c1c1c" stroke="#1c1c1c" stroke-width="0.28">IP: pTyr</text>
<text x="23.50" y="393.50" font-size="8.3" textLength="30.00" lengthAdjust="spacingAndGlyphs" fill="#1c1c1c" stroke="#1c1c1c" stroke-width="0.28">IB: Tyk2</text>
<text x="112.50" y="366.00" font-size="8.3" textLength="20.80" lengthAdjust="spacingAndGlyphs" fill="#1c1c1c" stroke="#1c1c1c" stroke-width="0.28">BaF/3</text>
<text x="112.50" y="374.70" font-size="8.3" textLength="44.20" lengthAdjust="spacingAndGlyphs" fill="#1c1c1c" stroke="#1c1c1c" stroke-width="0.28">JAK1V658F</text>
<text x="112.50" y="386.80" font-size="8.3" textLength="20.80" lengthAdjust="spacingAndGlyphs" fill="#1c1c1c" stroke="#1c1c1c" stroke-width="0.28">BaF/3</text>
<text x="112.50" y="396.90" font-size="8.3" textLength="46.00" lengthAdjust="spacingAndGlyphs" fill="#1c1c1c" stroke="#1c1c1c" stroke-width="0.28">JAK2R683G</text>
<text x="212.20" y="242.00" font-size="8.3" textLength="70.60" lengthAdjust="spacingAndGlyphs" fill="#1c1c1c" stroke="#1c1c1c" stroke-width="0.28">BaF/3 JAK2R683G</text>
<text x="236.50" y="255.00" font-size="8.3" text-anchor="middle" textLength="17.00" lengthAdjust="spacingAndGlyphs" fill="#1c1c1c" stroke="#1c1c1c" stroke-width="0.28">sens</text>
<text x="261.30" y="255.00" font-size="8.3" text-anchor="middle" textLength="16.50" lengthAdjust="spacingAndGlyphs" fill="#1c1c1c" stroke="#1c1c1c" stroke-width="0.28">pers</text>
<rect x="224.50" y="259.50" width="47.80" height="13.30" fill="#565656" stroke="#3a3a3a" stroke-width="1" />
<rect x="224.50" y="275.70" width="47.80" height="13.60" fill="#565656" stroke="#3a3a3a" stroke-width="1" />
<path d="M252.30,265.70 L269.50,266.30 L269.50,267.70 L252.30,268.30 Z" fill="#141414" opacity="1"/>
<path d="M253.40,281.40 L272.40,281.20 L272.40,284.40 L253.40,284.20 Z" fill="#141414" opacity="1"/>
<text x="191.70" y="268.00" font-size="8.3" textLength="28.00" lengthAdjust="spacingAndGlyphs" fill="#1c1c1c" stroke="#1c1c1c" stroke-width="0.28">IP: Jak1</text>
<text x="191.70" y="283.20" font-size="8.3" textLength="28.80" lengthAdjust="spacingAndGlyphs" fill="#1c1c1c" stroke="#1c1c1c" stroke-width="0.28">IP: Tyk2</text>
<text x="275.50" y="269.20" font-size="8.3" textLength="34.80" lengthAdjust="spacingAndGlyphs" fill="#1c1c1c" stroke="#1c1c1c" stroke-width="0.28">IB: pJak2</text>
<text x="275.50" y="286.50" font-size="8.3" textLength="34.80" lengthAdjust="spacingAndGlyphs" fill="#1c1c1c" stroke="#1c1c1c" stroke-width="0.28">IB: pJak2</text>
<rect x="298.50" y="325.70" width="50.60" height="13.20" fill="#7e7e7e" stroke="#6a6a6a" stroke-width="1" />
<rect x="298.50" y="342.40" width="50.60" height="14.00" fill="#7e7e7e" stroke="#6a6a6a" stroke-width="1" />
<line x1="298.00" y1="358.50" x2="349.60" y2="358.50" stroke="#333" stroke-width="1"/>
<rect x="353.50" y="325.70" width="51.60" height="13.20" fill="#7e7e7e" stroke="#6a6a6a" stroke-width="1" />
<rect x="353.50" y="342.40" width="51.60" height="14.00" fill="#7e7e7e" stroke="#6a6a6a" stroke-width="1" />
<line x1="353.00" y1="358.50" x2="405.60" y2="358.50" stroke="#333" stroke-width="1"/>
<rect x="418.50" y="325.70" width="50.60" height="13.20" fill="#7e7e7e" stroke="#6a6a6a" stroke-width="1" />
<rect x="418.50" y="342.40" width="50.60" height="13.00" fill="#7e7e7e" stroke="#6a6a6a" stroke-width="1" />
<line x1="418.00" y1="358.30" x2="469.60" y2="358.30" stroke="#333" stroke-width="1"/>
<text x="260.50" y="336.30" font-size="8.3" textLength="35.60" lengthAdjust="spacingAndGlyphs" fill="#1c1c1c" stroke="#1c1c1c" stroke-width="0.28">IB: Hsp90</text>
<text x="260.50" y="352.80" font-size="8.3" textLength="28.50" lengthAdjust="spacingAndGlyphs" fill="#1c1c1c" stroke="#1c1c1c" stroke-width="0.28">IB: Jak1</text>
<text x="474.60" y="333.80" font-size="8.3" textLength="36.90" lengthAdjust="spacingAndGlyphs" fill="#1c1c1c" stroke="#1c1c1c" stroke-width="0.28">IB: Hsp90</text>
<text x="474.60" y="349.60" font-size="8.3" textLength="30.50" lengthAdjust="spacingAndGlyphs" fill="#1c1c1c" stroke="#1c1c1c" stroke-width="0.28">IB: Jak2</text>
<text x="323.00" y="368.10" font-size="8.3" text-anchor="middle" textLength="32.80" lengthAdjust="spacingAndGlyphs" fill="#1c1c1c" stroke="#1c1c1c" stroke-width="0.28">MOHITO</text>
<text x="322.90" y="377.40" font-size="8.3" text-anchor="middle" textLength="43.30" lengthAdjust="spacingAndGlyphs" fill="#1c1c1c" stroke="#1c1c1c" stroke-width="0.28">JAK1V658F</text>
<text x="375.60" y="367.90" font-size="8.3" text-anchor="middle" textLength="21.00" lengthAdjust="spacingAndGlyphs" fill="#1c1c1c" stroke="#1c1c1c" stroke-width="0.28">BaF/3</text>
<text x="374.10" y="377.30" font-size="8.3" text-anchor="middle" textLength="43.20" lengthAdjust="spacingAndGlyphs" fill="#1c1c1c" stroke="#1c1c1c" stroke-width="0.28">JAK1V658F</text>
<text x="440.70" y="367.20" font-size="8.3" text-anchor="middle" textLength="21.50" lengthAdjust="spacingAndGlyphs" fill="#1c1c1c" stroke="#1c1c1c" stroke-width="0.28">BaF/3</text>
<text x="441.70" y="376.90" font-size="8.3" text-anchor="middle" textLength="48.00" lengthAdjust="spacingAndGlyphs" fill="#1c1c1c" stroke="#1c1c1c" stroke-width="0.28">JAK2 R683G</text>
<text x="307.20" y="321.80" font-size="8.1" transform="rotate(-56 307.20 321.80)" fill="#1c1c1c" stroke="#1c1c1c" stroke-width="0.28">Input</text>
<text x="323.50" y="321.80" font-size="8.1" transform="rotate(-56 323.50 321.80)" fill="#1c1c1c" stroke="#1c1c1c" stroke-width="0.28">Ctrl beads</text>
<text x="339.80" y="321.80" font-size="8.1" transform="rotate(-56 339.80 321.80)" fill="#1c1c1c" stroke="#1c1c1c" stroke-width="0.28">PU-H71 beads</text>
<text x="362.40" y="321.80" font-size="8.1" transform="rotate(-56 362.40 321.80)" fill="#1c1c1c" stroke="#1c1c1c" stroke-width="0.28">Input</text>
<text x="378.70" y="321.80" font-size="8.1" transform="rotate(-56 378.70 321.80)" fill="#1c1c1c" stroke="#1c1c1c" stroke-width="0.28">PU-H71 beads</text>
<text x="395.00" y="321.80" font-size="8.1" transform="rotate(-56 395.00 321.80)" fill="#1c1c1c" stroke="#1c1c1c" stroke-width="0.28">Ctrl beads</text>
<text x="426.00" y="321.80" font-size="8.1" transform="rotate(-56 426.00 321.80)" fill="#1c1c1c" stroke="#1c1c1c" stroke-width="0.28">Input</text>
<text x="442.30" y="321.80" font-size="8.1" transform="rotate(-56 442.30 321.80)" fill="#1c1c1c" stroke="#1c1c1c" stroke-width="0.28">Ctrl beads</text>
<text x="458.60" y="321.80" font-size="8.1" transform="rotate(-56 458.60 321.80)" fill="#1c1c1c" stroke="#1c1c1c" stroke-width="0.28">PU-H71 beads</text>
<rect x="302.75" y="333.00" width="12.50" height="2.40" rx="0.80" fill="#141414" opacity="0.95"/>
<rect x="320.00" y="333.80" width="6.00" height="1.00" rx="0.33" fill="#141414" opacity="0.2"/>
<rect x="334.30" y="328.70" width="14.00" height="9.80" rx="3.00" fill="#141414" opacity="1"/>
<rect x="353.60" y="330.50" width="12.20" height="3.00" rx="1.00" fill="#141414" opacity="1"/>
<rect x="369.60" y="327.20" width="14.00" height="12.00" rx="3.50" fill="#141414" opacity="1"/>
<rect x="386.80" y="330.00" width="11.00" height="1.60" rx="0.53" fill="#141414" opacity="0.45"/>
<rect x="369.20" y="350.00" width="12.00" height="1.80" rx="0.60" fill="#141414" opacity="0.45"/>
<rect x="422.70" y="329.00" width="10.60" height="2.00" rx="0.67" fill="#141414" opacity="0.9"/>
<path d="M452.80,327.80 L465.20,328.30 L465.20,333.30 L452.80,333.80 Z" fill="#141414" opacity="1"/>
<rect x="453.50" y="345.40" width="11.00" height="4.00" rx="1.33" fill="#141414" opacity="0.95"/>
</svg>
</body></html>
